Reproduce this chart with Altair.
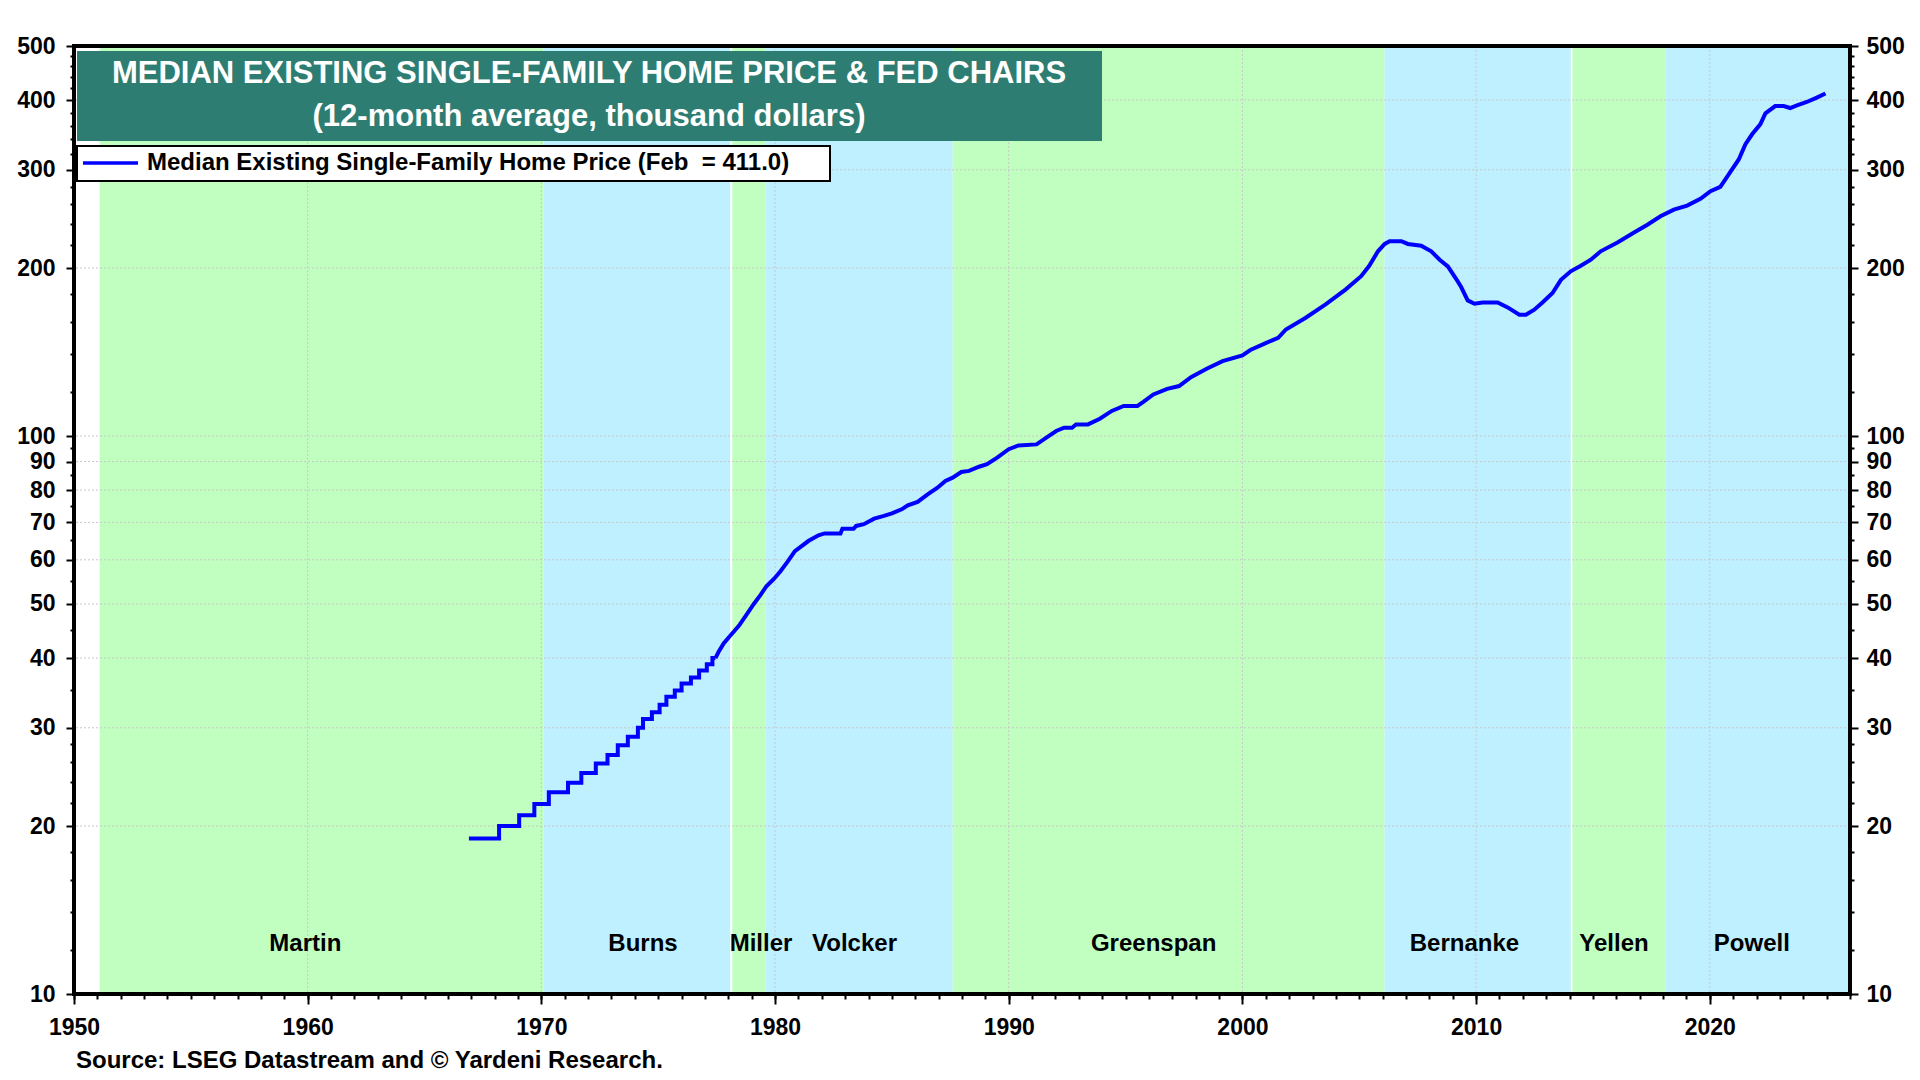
import altair as alt
import pandas as pd

# Fed chair terms (decimal years) and label spots
CHAIRS = ["Martin", "Burns", "Miller", "Volcker", "Greenspan", "Bernanke", "Yellen", "Powell"]
CHAIR_START = [1951.1, 1970.1, 1978.17, 1979.6, 1987.6, 2006.08, 2014.12, 2018.1]
CHAIR_END = [1970.1, 1978.08, 1979.6, 1987.6, 2006.08, 2014.05, 2018.1, 2026.0]
CHAIR_SHADE = ["g", "b", "g", "b", "g", "b", "g", "b"]
CHAIR_LABEL_X = [1959.9, 1974.35, 1979.4, 1983.4, 1996.2, 2009.5, 2015.9, 2021.8]

# early part of the series moves in steps
STEP_YEARS = [1966.9, 1968.19, 1969.05, 1969.7, 1970.32, 1971.14, 1971.71, 1972.33,
              1972.83, 1973.27, 1973.7, 1974.13, 1974.35, 1974.73, 1975.06, 1975.35,
              1975.71, 1976.0, 1976.4, 1976.75, 1977.08, 1977.32, 1977.45]
STEP_VALUES = [19.0, 20.0, 20.9, 21.9, 23.0, 23.9, 24.9, 25.9,
               26.8, 27.9, 28.9, 30.0, 31.1, 32.0, 33.0, 34.1,
               35.0, 36.0, 36.9, 38.0, 39.0, 40.0, 40.0]

# rest of the series, 12-month average, thousand dollars
YEARS = [1977.45, 1977.58, 1977.8, 1978.09, 1978.45, 1978.73, 1979.09, 1979.38, 1979.63,
         1979.96, 1980.24, 1980.53, 1980.85, 1981.44, 1981.86, 1982.12, 1982.8, 1982.88,
         1983.36, 1983.47, 1983.8, 1984.24, 1984.66, 1985.0, 1985.42, 1985.68, 1986.1,
         1986.53, 1986.95, 1987.29, 1987.6, 1987.97, 1988.3, 1988.73, 1989.07, 1989.49,
         1990.0, 1990.42, 1991.19, 1991.61, 1992.03, 1992.37, 1992.71, 1992.88, 1993.39,
         1993.9, 1994.41, 1994.92, 1995.51, 1995.76, 1996.19, 1996.78, 1997.29, 1997.8,
         1998.47, 1999.15, 2000.0, 2000.34, 2001.02, 2001.53, 2001.86, 2002.71, 2003.56,
         2004.41, 2005.08, 2005.42, 2005.8, 2006.09, 2006.3, 2006.8, 2007.08, 2007.65,
         2008.08, 2008.44, 2008.79, 2009.15, 2009.36, 2009.64, 2009.93, 2010.28, 2010.92,
         2011.35, 2011.85, 2012.13, 2012.49, 2012.84, 2013.27, 2013.63, 2014.05, 2014.48,
         2014.91, 2015.33, 2016.05, 2016.76, 2017.33, 2017.89, 2018.46, 2019.03, 2019.6,
         2020.03, 2020.45, 2020.81, 2021.24, 2021.52, 2021.81, 2022.16, 2022.38, 2022.8,
         2023.16, 2023.44, 2023.73, 2024.15, 2024.58, 2024.95]
PRICES = [40.0, 41.0, 42.5, 43.9, 45.7, 47.5, 50.0, 51.9, 53.8,
          55.5, 57.3, 59.5, 62.2, 64.9, 66.4, 66.9, 66.9, 68.2,
          68.2, 69.0, 69.5, 71.1, 71.9, 72.7, 73.9, 75.1, 76.2,
          78.6, 80.8, 83.1, 84.2, 86.2, 86.6, 88.1, 89.0, 91.4,
          94.7, 96.2, 96.6, 99.3, 102.1, 103.5, 103.5, 104.9, 104.9,
          107.4, 110.9, 113.2, 113.2, 115.1, 118.7, 121.5, 122.9, 127.5,
          132.0, 136.2, 139.5, 142.6, 146.9, 150.0, 155.2, 162.9, 172.1,
          183.0, 193.4, 201.6, 214.3, 220.9, 223.4, 223.4, 220.9, 219.3,
          214.3, 207.0, 201.4, 191.1, 184.9, 175.0, 172.6, 173.5, 173.5,
          170.0, 164.9, 164.9, 168.4, 173.5, 180.4, 190.5, 197.3, 201.9,
          207.0, 214.3, 222.3, 231.6, 239.2, 247.6, 254.5, 258.8, 266.1,
          274.6, 279.6, 294.3, 313.1, 333.2, 347.3, 361.9, 378.7, 390.3,
          390.3, 387.1, 391.4, 396.9, 404.1, 411.0]

X_LABELS = [1950, 1960, 1970, 1980, 1990, 2000, 2010, 2020]
X_MINOR = list(range(1950, 2027))
Y_LABELS = [10, 20, 30, 40, 50, 60, 70, 80, 90, 100, 200, 300, 400, 500]
Y_MINOR = [12, 14, 16, 18, 22, 24, 26, 28, 35, 45, 55, 65, 75, 85, 95,
           120, 140, 160, 180, 220, 240, 260, 280, 320, 340, 360, 380, 420, 440, 460, 480]

TITLE_1 = "MEDIAN EXISTING SINGLE-FAMILY HOME PRICE & FED CHAIRS"
TITLE_2 = "(12-month average, thousand dollars)"
LEGEND = "Median Existing Single-Family Home Price (Feb\u00a0 = 411.0)"
SOURCE = "Source: LSEG Datastream and \u00a9 Yardeni Research."

W, H = 1776, 948
FONT = "Liberation Sans"
GREEN, BLUE, TEAL, LINE = "#C0FFC0", "#BEF0FF", "#2E7D72", "#0000FF"

chairs = pd.DataFrame({"name": CHAIRS, "start": CHAIR_START, "end": CHAIR_END,
                       "shade": CHAIR_SHADE, "lx": CHAIR_LABEL_X})
steps = pd.DataFrame({"year": STEP_YEARS, "price": STEP_VALUES})
series = pd.DataFrame({"year": YEARS, "price": PRICES})
xgrid = pd.DataFrame({"v": X_LABELS[1:]})
ygrid = pd.DataFrame({"v": Y_LABELS[1:-1]})

x_scale = alt.Scale(domain=[1950, 2026], nice=False, zero=False)
y_scale = alt.Scale(type="log", domain=[10, 500], nice=False)

ax = dict(title=None, domain=False, grid=False, tickColor="black", tickWidth=2,
          labelFont=FONT, labelFontSize=23, labelFontWeight="bold", labelColor="black",
          labelOverlap=False, labelFlush=False, format="d")
x_major = alt.Axis(orient="bottom", values=X_LABELS, tickSize=10, labelPadding=12, **ax)
x_minor = alt.Axis(orient="bottom", values=X_MINOR, tickSize=5, labels=False, **ax)
y_left = alt.Axis(orient="left", values=Y_LABELS, tickSize=8, labelPadding=11, **ax)
y_left_minor = alt.Axis(orient="left", values=Y_MINOR, tickSize=4, labels=False, **ax)
y_right = alt.Axis(orient="right", values=Y_LABELS, tickSize=8, labelPadding=8, **ax)
y_right_minor = alt.Axis(orient="right", values=Y_MINOR, tickSize=4, labels=False, **ax)

shades = alt.Chart(chairs).mark_rect().encode(
    x=alt.X("start:Q", scale=x_scale, axis=x_minor),
    x2="end:Q",
    y=alt.YDatum(10, scale=y_scale, axis=y_left_minor),
    y2=alt.Y2Datum(500),
    color=alt.Color("shade:N", scale=alt.Scale(domain=["g", "b"], range=[GREEN, BLUE]), legend=None),
)

hgrid = alt.Chart(ygrid).mark_rule(color="#c8c8c8", strokeDash=[2, 2], strokeWidth=1).encode(
    y=alt.Y("v:Q", scale=y_scale, axis=None)
)
vgrid = alt.Chart(xgrid).mark_rule(color="#c8c8c8", strokeDash=[2, 2], strokeWidth=1).encode(
    x=alt.X("v:Q", scale=x_scale, axis=None)
)

names = alt.Chart(chairs).mark_text(font=FONT, fontSize=24, fontWeight="bold", color="black").encode(
    x=alt.X("lx:Q", scale=x_scale, axis=x_major),
    y=alt.YDatum(12.3, scale=y_scale, axis=y_left),
    text="name:N",
)

step_line = alt.Chart(steps).mark_line(interpolate="step-after", color=LINE, strokeWidth=4).encode(
    x=alt.X("year:Q", scale=x_scale, axis=None),
    y=alt.Y("price:Q", scale=y_scale, axis=y_right_minor),
)
price_line = alt.Chart(series).mark_line(color=LINE, strokeWidth=4).encode(
    x=alt.X("year:Q", scale=x_scale, axis=None),
    y=alt.Y("price:Q", scale=y_scale, axis=y_right),
)

frame = alt.Chart(pd.DataFrame({"t": [""]})).mark_rect(fill=None, stroke="black", strokeWidth=4).encode(
    x=alt.value(0), x2=alt.value(W), y=alt.value(0), y2=alt.value(H)
)

title_df = pd.DataFrame({"a": [TITLE_1], "b": [TITLE_2]})
title_box = alt.Chart(title_df).mark_rect(color=TEAL).encode(
    x=alt.value(3), x2=alt.value(1028), y=alt.value(5), y2=alt.value(95)
)
title_1 = alt.Chart(title_df).mark_text(font=FONT, fontSize=31, fontWeight="bold", color="white").encode(
    x=alt.value(515), y=alt.value(28), text="a:N"
)
title_2 = alt.Chart(title_df).mark_text(font=FONT, fontSize=31, fontWeight="bold", color="white").encode(
    x=alt.value(515), y=alt.value(71), text="b:N"
)

legend_df = pd.DataFrame({"t": [LEGEND]})
legend_box = alt.Chart(legend_df).mark_rect(fill="white", stroke="black", strokeWidth=2).encode(
    x=alt.value(3), x2=alt.value(756), y=alt.value(100), y2=alt.value(135)
)
legend_line = alt.Chart(legend_df).mark_rule(color=LINE, strokeWidth=3.5).encode(
    x=alt.value(9), x2=alt.value(64), y=alt.value(117)
)
legend_text = alt.Chart(legend_df).mark_text(font=FONT, fontSize=24, fontWeight="bold", color="black",
                                             align="left").encode(
    x=alt.value(73), y=alt.value(117), text="t:N"
)

source = alt.Chart(pd.DataFrame({"t": [SOURCE]})).mark_text(
    font=FONT, fontSize=24, fontWeight="bold", color="black", align="left"
).encode(x=alt.value(2), y=alt.value(1015), text="t:N")

chart = (
    alt.layer(shades, hgrid, vgrid, names, step_line, price_line, frame,
              title_box, title_1, title_2, legend_box, legend_line, legend_text, source)
    .resolve_axis(x="independent", y="independent")
    .properties(width=W, height=H, autosize=alt.AutoSizeParams(type="none"),
                padding={"left": 66, "top": 38, "right": 58, "bottom": 78}, background="white")
    .configure_view(strokeWidth=0)
)

chart.save("out.html", embed_options={"renderer": "svg", "actions": False})
